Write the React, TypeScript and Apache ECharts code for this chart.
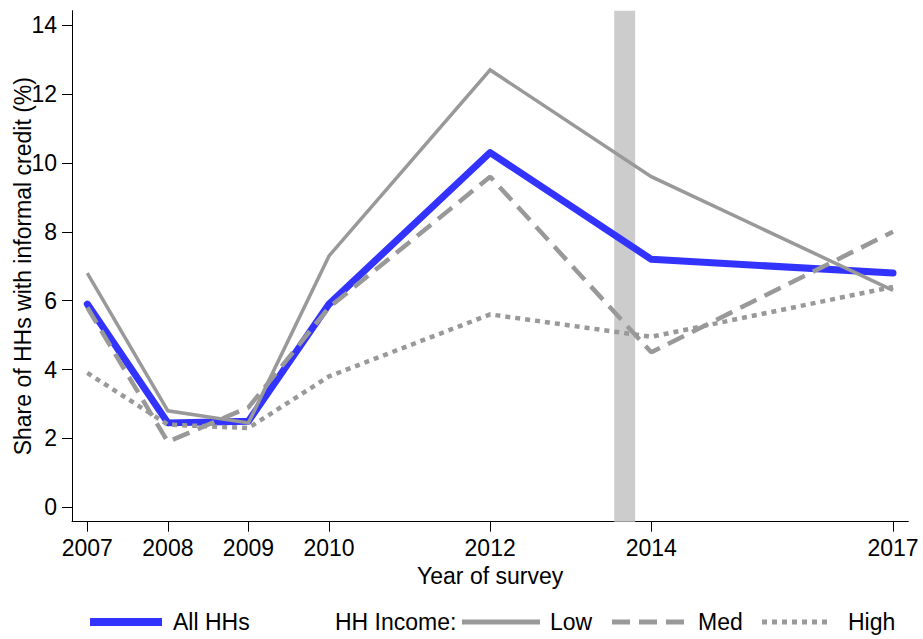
import React, { useEffect, useRef } from "react";
import * as echarts from "echarts";

const years = [2007, 2008, 2009, 2010, 2012, 2014, 2017];
const allHHs = [5.9, 2.45, 2.5, 5.9, 10.3, 7.2, 6.8];
const lowIncome = [6.8, 2.8, 2.45, 7.3, 12.7, 9.6, 6.3];
const medIncome = [5.8, 1.9, 2.9, 5.8, 9.6, 4.5, 8.0];
const highIncome = [3.9, 2.4, 2.3, 3.8, 5.6, 4.95, 6.4];
const yTicks = [0, 2, 4, 6, 8, 10, 12, 14];
const xTicks = [2007, 2008, 2009, 2010, 2012, 2014, 2017];
const bandRange = [2013.54, 2013.8];

const FONT = "'Liberation Sans', Arial, Helvetica, sans-serif";
const BLUE = "#3333ff";
const GRAY = "#999999";

const pairs = (vals: number[]) => years.map((y, i) => [y, vals[i]]);

export default function App() {
  const ref = useRef<HTMLDivElement>(null);
  useEffect(() => {
    document.body.style.margin = "0";
    const chart = echarts.init(ref.current!, null, { renderer: "svg" });
    const legendY = 622;
    const txt = (text: string, x: number) => ({
      type: "text",
      x,
      y: legendY,
      style: {
        text,
        fill: "#000",
        fontSize: 23,
        fontFamily: FONT,
        verticalAlign: "middle",
        align: "left",
      },
    });
    const lin = (x1: number, x2: number, color: string, w: number, dash?: number[]) => ({
      type: "line",
      shape: { x1, y1: legendY, x2, y2: legendY },
      style: { stroke: color, lineWidth: w, lineDash: dash, lineCap: "butt" },
    });
    chart.setOption({
      animation: false,
      backgroundColor: "#fff",
      grid: {
        left: 72,
        top: 10.7,
        right: 14.7,
        bottom: 117.3,
        containLabel: false,
        outerBoundsMode: "none",
      },
      xAxis: {
        type: "value",
        min: 2006.81,
        max: 2017.19,
        name: "Year of survey",
        nameLocation: "middle",
        nameGap: 42,
        nameTextStyle: { fontSize: 23, fontFamily: FONT, color: "#000" },
        axisLine: { show: true, onZero: false, lineStyle: { color: "#000", width: 1 } },
        axisTick: { show: true, length: 10, lineStyle: { color: "#000", width: 1 }, customValues: xTicks },
        axisLabel: {
          customValues: xTicks,
          fontSize: 23,
          fontFamily: FONT,
          color: "#000",
          margin: 15,
          showMinLabel: true,
          showMaxLabel: true,
          formatter: (v: number) => String(v),
        },
        splitLine: { show: false },
      },
      yAxis: {
        type: "value",
        min: -0.42,
        max: 14.42,
        name: "Share of HHs with informal credit (%)",
        nameLocation: "middle",
        nameRotate: 90,
        nameGap: 38,
        nameMoveOverlap: false,
        nameTextStyle: { fontSize: 23, fontFamily: FONT, color: "#000" },
        axisLine: { show: true, onZero: false, lineStyle: { color: "#000", width: 1 } },
        axisTick: { show: true, length: 10, lineStyle: { color: "#000", width: 1 }, customValues: yTicks },
        axisLabel: {
          customValues: yTicks,
          fontSize: 23,
          fontFamily: FONT,
          color: "#000",
          margin: 15,
          formatter: (v: number) => String(v),
        },
        splitLine: { show: false },
      },
      series: [
        {
          type: "line",
          name: "band",
          data: [],
          z: 1,
          silent: true,
          markArea: {
            silent: true,
            itemStyle: { color: "#cccccc" },
            data: [[{ xAxis: bandRange[0] }, { xAxis: bandRange[1] }]],
          },
        },
        {
          type: "line",
          name: "All HHs",
          data: pairs(allHHs),
          symbol: "none",
          z: 3,
          lineStyle: { color: BLUE, width: 7, cap: "round", join: "round" },
        },
        {
          type: "line",
          name: "Low",
          data: pairs(lowIncome),
          symbol: "none",
          z: 4,
          lineStyle: { color: GRAY, width: 3.5, join: "miter" },
        },
        {
          type: "line",
          name: "Med",
          data: pairs(medIncome),
          symbol: "none",
          z: 4,
          lineStyle: { color: GRAY, width: 4.5, type: [18, 9], cap: "butt" },
        },
        {
          type: "line",
          name: "High",
          data: pairs(highIncome),
          symbol: "none",
          z: 4,
          lineStyle: { color: GRAY, width: 4.5, type: [5, 5], cap: "butt" },
        },
      ],
      graphic: [
        lin(90, 162, BLUE, 8),
        txt("All HHs", 173),
        txt("HH Income:", 335),
        lin(462, 540, GRAY, 5),
        txt("Low", 550),
        lin(612, 685, GRAY, 5, [18, 9]),
        txt("Med", 698),
        lin(762, 832, GRAY, 5, [5, 5]),
        txt("High", 848),
      ],
    });
    return () => chart.dispose();
  }, []);
  return (
    <div
      ref={ref}
      style={{ position: "fixed", left: 0, top: 0, width: 923, height: 639, background: "#fff" }}
    />
  );
}
